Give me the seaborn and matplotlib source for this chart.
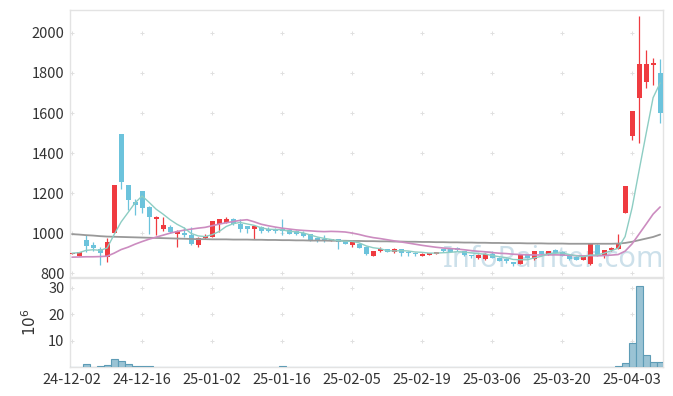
import numpy as np
import pandas as pd
import seaborn as sns
from matplotlib import pyplot as plt

''' Data '''
# trading days (KRX holidays removed)
holidays = ['2024-12-25', '2024-12-31', '2025-01-01', '2025-01-27', '2025-01-28',
            '2025-01-29', '2025-01-30', '2025-03-03']
dates = pd.bdate_range('2024-12-02', '2025-04-09')
dates = dates[~dates.isin(pd.to_datetime(holidays))]

opens = [897, 888, 965, 942, 920, 882, 1002, 1495, 1240, 1157,
         1210, 1132, 1073, 1020, 1032, 995, 1002, 993, 943, 977,
         982, 1048, 1052, 1070, 1045, 1035, 1022, 1032, 1023, 1023,
         1023, 1018, 1012, 1003, 995, 977, 970, 962, 970, 963,
         943, 947, 932, 887, 913, 920, 907, 920, 907, 903,
         888, 892, 897, 920, 920, 927, 910, 890, 878, 870,
         895, 878, 873, 855, 848, 890, 870, 910, 893, 918,
         907, 887, 882, 868, 845, 940, 885, 915, 923, 1102,
         1485, 1673, 1757, 1838, 1802]
highs = [903, 908, 993, 957, 932, 977, 1242, 1497, 1242, 1173,
         1212, 1134, 1084, 1082, 1040, 1014, 1032, 1032, 980, 995,
         1062, 1072, 1080, 1078, 1070, 1037, 1037, 1034, 1030, 1025,
         1073, 1020, 1015, 1010, 997, 980, 990, 972, 972, 965,
         960, 949, 934, 912, 930, 922, 928, 922, 909, 905,
         900, 902, 907, 922, 922, 929, 912, 892, 898, 899,
         910, 880, 875, 857, 892, 892, 912, 912, 912, 920,
         909, 889, 884, 884, 947, 945, 918, 929, 998, 1237,
         1612, 2085, 1915, 1873, 1868]
lows = [895, 886, 907, 910, 840, 854, 1000, 1223, 1115, 1090,
        1103, 998, 990, 1010, 1000, 932, 982, 943, 932, 972,
        980, 1007, 1050, 1040, 1008, 1003, 973, 1003, 1005, 1000,
        990, 996, 990, 983, 960, 955, 958, 960, 923, 945,
        930, 925, 893, 885, 905, 905, 900, 885, 885, 885,
        886, 890, 895, 905, 905, 913, 888, 875, 870, 868,
        876, 861, 850, 838, 846, 875, 868, 896, 891, 900,
        885, 868, 866, 866, 840, 888, 875, 913, 921, 1100,
        1465, 1452, 1723, 1740, 1552]
closes = [900, 905, 937, 927, 902, 957, 1240, 1253, 1165, 1143,
          1127, 1082, 1082, 1040, 1005, 1012, 992, 945, 978, 987,
          1060, 1070, 1070, 1048, 1020, 1022, 1035, 1010, 1012, 1013,
          1013, 998, 998, 985, 962, 962, 963, 970, 957, 947,
          957, 927, 895, 910, 923, 907, 920, 903, 902, 898,
          898, 900, 905, 910, 907, 915, 890, 885, 890, 897,
          878, 863, 860, 845, 890, 877, 910, 898, 910, 902,
          887, 870, 868, 882, 945, 890, 915, 927, 948, 1235,
          1610, 1845, 1845, 1848, 1602]
# volume, millions of shares
volume = [0.05, 0.1, 1.2, 0.1, 0.5, 0.9, 3.1, 2.4, 1.0, 0.6,
          0.6, 0.5, 0.2, 0.15, 0.1, 0.1, 0.15, 0.1, 0.1, 0.1,
          0.15, 0.1, 0.1, 0.1, 0.1, 0.1, 0.1, 0.1, 0.1, 0.1,
          0.5, 0.1, 0.1, 0.1, 0.1, 0.1, 0.05, 0.05, 0.1, 0.05,
          0.05, 0.1, 0.1, 0.05, 0.05, 0.05, 0.05, 0.05, 0.05, 0.05,
          0.05, 0.05, 0.05, 0.05, 0.05, 0.05, 0.05, 0.05, 0.05, 0.1,
          0.05, 0.05, 0.05, 0.1, 0.1, 0.05, 0.1, 0.05, 0.05, 0.05,
          0.05, 0.05, 0.05, 0.05, 0.15, 0.1, 0.1, 0.1, 0.6, 1.4,
          8.9, 30.6, 4.6, 2.1, 2.1]
# 20-day average before a full window exists
ma20_head = [880, 881, 882, 882, 883, 885, 900, 918, 930, 945,
             958, 970, 980, 990, 1000, 1008, 1015, 1020, 1025]
# long average (window starts before the chart)
ma_long = [995, 993, 990, 988, 985, 983, 982, 981, 980, 979,
           978, 977, 976, 975, 974, 973, 972, 971, 970, 970,
           969, 969, 969, 968, 968, 968, 967, 967, 966, 966,
           965, 965, 964, 964, 963, 963, 963, 962, 962, 962,
           961, 961, 960, 960, 959, 959, 958, 958, 957, 957,
           956, 956, 955, 955, 954, 954, 953, 953, 952, 952,
           951, 951, 950, 950, 950, 949, 949, 949, 948, 948,
           948, 947, 947, 947, 947, 947, 947, 947, 948, 951,
           957, 965, 973, 981, 993]

df = pd.DataFrame({'date': dates, 'open': opens, 'high': highs, 'low': lows,
                   'close': closes, 'volume': volume})
df['idx'] = np.arange(len(df))
df['ma5'] = df['close'].rolling(5, min_periods=1).mean()
df['ma20'] = df['close'].rolling(20).mean()
df.loc[:18, 'ma20'] = ma20_head
df['malong'] = ma_long

''' Style '''
sns.set_theme(style='white')
plt.rcParams['font.family'] = ['Noto Sans CJK KR', 'DejaVu Sans']
RED, BLUE = '#ef3b40', '#6cc3dc'
TXT = '#333333'

fig = plt.figure(figsize=(6.73, 3.96), dpi=100)
ax = fig.add_axes([0.104, 0.300, 0.881, 0.675])
axv = fig.add_axes([0.104, 0.073, 0.881, 0.225], sharex=ax)

''' Candles '''
up = df['close'] >= df['open']
colors = np.where(up, RED, BLUE)
body_low = np.minimum(df['open'], df['close'])
body_h = np.maximum(np.abs(df['close'] - df['open']), 3)
ax.vlines(df['idx'], df['low'], df['high'], colors=colors, linewidth=0.9, zorder=3)
ax.bar(df['idx'], body_h, bottom=body_low, width=0.72, color=colors, linewidth=0, zorder=4)

sns.lineplot(data=df, x='idx', y='malong', ax=ax, color='#999999', linewidth=1.3, zorder=5)
sns.lineplot(data=df, x='idx', y='ma20', ax=ax, color='#cc8cc0', linewidth=1.2, zorder=5)
sns.lineplot(data=df, x='idx', y='ma5', ax=ax, color='#8dcdc3', linewidth=1.0, zorder=6)

ax.text(0.815, 0.068, 'InfoPainter.com', transform=ax.transAxes, ha='center', va='center',
        fontsize=21, color='#b7d3e2', alpha=0.7, zorder=1, family=['Noto Sans', 'DejaVu Sans'])

''' Volume '''
axv.bar(df['idx'], df['volume'], width=1.0, color='#9ac3d4', edgecolor='#5e9cb6',
        linewidth=0.8, zorder=3)

''' Axes '''
xt = np.arange(0, 81, 10)
yt = np.arange(800, 2001, 200)
vt = [10, 20, 30]
ax.set_xlim(-0.3, 84.4)
ax.set_ylim(780, 2115)
axv.set_ylim(0, 33.6)

for a, ticks in ((ax, yt), (axv, vt)):
    gx, gy = np.meshgrid(xt, ticks)
    a.scatter(gx.ravel(), gy.ravel(), marker='+', s=10, color='#e0e0e0', linewidths=0.7, zorder=0)
    a.set_yticks(ticks)
    a.set_xlabel('')
    a.set_ylabel('')
    for s in a.spines.values():
        s.set_color('#e3e3e3')
        s.set_linewidth(1)
    a.tick_params(axis='both', length=0, labelsize=10.5, labelcolor=TXT, pad=4)

ax.tick_params(axis='x', labelbottom=False)
axv.set_xticks(xt)
axv.set_xticklabels([df['date'][i].strftime('%y-%m-%d') for i in xt])
axv.set_ylabel(r'$10^6$', fontsize=11, color=TXT, labelpad=6)

fig.savefig('out.png', dpi=100)
